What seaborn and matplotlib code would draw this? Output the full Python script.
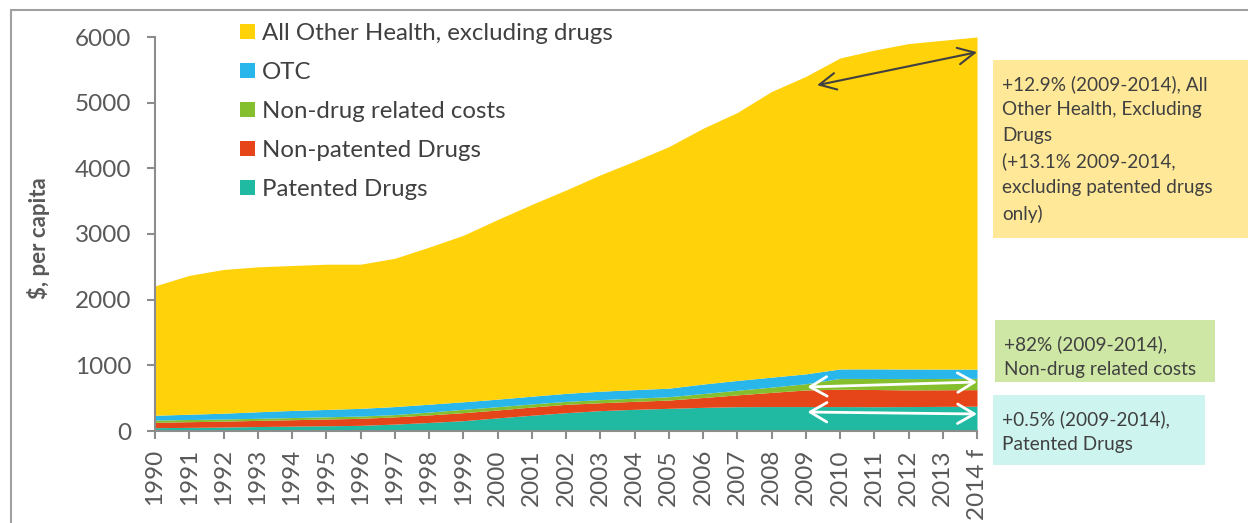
import pandas as pd
import seaborn as sns
import matplotlib.pyplot as plt
from matplotlib.patches import Rectangle
from matplotlib.lines import Line2D

# data ($ per capita, stacked layers)
years = list(range(1990, 2015))
year_labels = [str(y) for y in years[:-1]] + ["2014 f"]

patented = [51, 55, 60, 68, 74, 80, 86, 105, 130, 157, 200, 240, 279, 310, 330,
            345, 360, 370, 372, 372, 372, 370, 372, 375, 378]
non_patented = [81, 87, 90, 94, 98, 102, 107, 110, 115, 122, 120, 125, 127, 120, 122,
                126, 150, 180, 216, 253, 264, 262, 254, 253, 252]
non_drug = [35, 33, 33, 31, 33, 34, 35, 35, 43, 51, 50, 47, 45, 48, 48,
            51, 60, 70, 80, 95, 164, 168, 172, 172, 172]
otc = [73, 80, 88, 100, 108, 112, 117, 122, 120, 115, 115, 118, 122, 128, 130,
       130, 145, 150, 152, 150, 145, 146, 146, 143, 140]
other_health = [1970, 2115, 2189, 2207, 2207, 2212, 2195, 2258, 2392, 2535, 2735, 2920,
                 3097, 3294, 3480, 3678, 3895, 4080, 4350, 4530, 4735, 4854, 4956,
                 5007, 5058]

series_names = ["Patented Drugs", "Non-patented Drugs", "Non-drug related costs",
                "OTC", "All Other Health, excluding drugs"]
colors = ["#20B9A1", "#E6451A", "#86BF2E", "#29B6EA", "#FFD20A"]

df = pd.DataFrame({
    "year": years,
    series_names[0]: patented,
    series_names[1]: non_patented,
    series_names[2]: non_drug,
    series_names[3]: otc,
    series_names[4]: other_health,
})

sns.set_theme(style="white")
plt.rcParams["font.family"] = ["Lato", "DejaVu Sans"]

W, H = 1248, 523
fig = plt.figure(figsize=(W / 100, H / 100), dpi=100)
ax = fig.add_axes([155 / W, 1 - 431 / H, (977 - 155) / W, (431 - 37) / H])


def px(x, y):
    return x / W, 1 - y / H


ax.stackplot(df["year"], *[df[n] for n in series_names], labels=series_names,
             colors=colors, linewidth=0)

ax.set_xlim(1990, 2014)
ax.set_ylim(0, 6000)
ax.set_xticks(years)
ax.set_xticklabels(year_labels, rotation=90)
ax.set_yticks(range(0, 6001, 1000))

grey = "#8C8C8C"
txt = "#404040"
for side in ["top", "right"]:
    ax.spines[side].set_visible(False)
for side in ["left", "bottom"]:
    ax.spines[side].set_color(grey)
    ax.spines[side].set_linewidth(1.5)
ax.tick_params(axis="both", which="major", direction="out", length=6, width=1.5,
               color=grey, labelcolor="#595959", labelsize=17.5)
ax.tick_params(axis="y", pad=11, left=True)
ax.tick_params(axis="x", pad=7, bottom=True)

ax.set_ylabel("$, per capita", fontsize=16, fontweight="bold", color="#595959")
ax.yaxis.set_label_coords(-0.128, 0.49)

# legend, top item first
handles, labels = ax.get_legend_handles_labels()
fig.legend(handles[::-1], labels[::-1], loc="upper left",
           bbox_to_anchor=px(240, 23), frameon=False, fontsize=17.3,
           handlelength=0.62, handleheight=0.62, handletextpad=0.3,
           labelspacing=0.75, borderpad=0, borderaxespad=0, labelcolor=txt)

# arrows
ax.annotate("", xy=(2014, 5769), xytext=(2009.33, 5266),
            arrowprops=dict(arrowstyle="<->,head_length=0.6,head_width=0.3",
                            color="#404040", lw=1.5, mutation_scale=20,
                            shrinkA=0, shrinkB=0))
for y0, y1 in [(670, 746), (289, 259)]:
    ax.annotate("", xy=(2014, y1), xytext=(2009.05, y0),
                arrowprops=dict(arrowstyle="<->,head_length=0.6,head_width=0.35",
                                color="white", lw=2, mutation_scale=20,
                                shrinkA=0, shrinkB=0))

# note boxes on the right
boxes = [
    (993, 60, 1248, 238, "#FFE999",
     "+12.9% (2009-2014), All\nOther Health, Excluding\nDrugs\n(+13.1% 2009-2014,\n"
     "excluding patented drugs\nonly)"),
    (995, 320, 1215, 382, "#CFE7A5", "+82% (2009-2014),\nNon-drug related costs"),
    (993, 395, 1205, 465, "#CDF4EE", "+0.5% (2009-2014),\nPatented Drugs"),
]
for x0, y0, x1, y1, fc, note in boxes:
    fig.patches.append(Rectangle(px(x0, y1), (x1 - x0) / W, (y1 - y0) / H,
                                 transform=fig.transFigure, facecolor=fc,
                                 edgecolor="none", zorder=0))
    fig.text(*px(x0 + 9, y0 + 15), note, ha="left", va="top", fontsize=13.7,
             color=txt, linespacing=1.6)

# outer frame of the original slide
fig.lines.append(Line2D([11 / W, 11 / W], [0, 1 - 10 / H], transform=fig.transFigure,
                        color="#A0A0A0", lw=1.5))
fig.lines.append(Line2D([11 / W, 1], [1 - 10 / H, 1 - 10 / H], transform=fig.transFigure,
                        color="#A0A0A0", lw=1.5))

fig.savefig("out.png", dpi=100)
plt.close(fig)
